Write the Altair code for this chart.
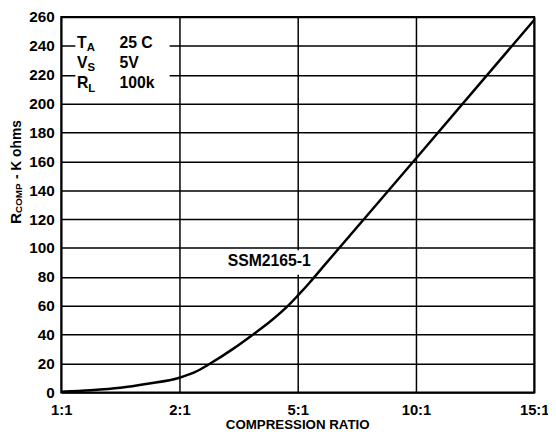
import altair as alt
import pandas as pd

# ---- data ----
ratio_labels = ["1:1", "2:1", "5:1", "10:1", "15:1"]
ratio_pos = [0, 1, 2, 3, 4]
y_ticks = list(range(0, 261, 20))

curve_x = [0.0, 0.25, 0.5, 0.73, 1.0, 1.13, 1.26, 1.45, 1.62, 1.78, 1.93, 2.0, 2.1, 2.23, 3.0, 4.0]
curve_y = [0.5, 1.5, 3.2, 6.0, 10.2, 14, 20, 30, 40, 50, 61, 67, 76, 88.5, 162, 258]

# annotation texts (position in data units, font size)
ann_text = ["T", "A", "25 C", "V", "S", "5V", "R", "L", "100k", "SSM2165-1"]
ann_x = [0.133, 0.215, 0.492, 0.133, 0.222, 0.492, 0.133, 0.228, 0.492, 1.408]
ann_y = [238.8, 236.4, 238.8, 225.0, 222.6, 225.0, 210.5, 208.1, 210.5, 87.3]
ann_size = [16, 11.5, 16, 16, 11.5, 16, 16, 11.5, 16, 16]

# white boxes behind the annotations
box_x = [0.12, 1.39]
box_x2 = [0.917, 2.13]
box_y = [206.8, 81.5]
box_y2 = [250.4, 98.5]

FONT = "Liberation Sans"

curve = pd.DataFrame({"x": curve_x, "y": curve_y})
ann = pd.DataFrame({"x": ann_x, "y": ann_y, "text": ann_text, "size": ann_size})
boxes = pd.DataFrame({"x": box_x, "x2": box_x2, "y": box_y, "y2": box_y2})

label_expr = "[" + ",".join("'%s'" % l for l in ratio_labels) + "][datum.value]"

X = alt.X(
    "x:Q",
    scale=alt.Scale(domain=[0, 4], nice=False, zero=False),
    axis=alt.Axis(
        values=ratio_pos, labelExpr=label_expr, title=None, grid=True, ticks=False,
        domain=False, labelPadding=10, labelFontSize=15, labelFont=FONT,
        labelFontWeight="bold", labelColor="black", gridColor="black", gridWidth=1.5,
        gridOpacity=1, labelFlush=False, labelOverlap=False,
    ),
)
Y = alt.Y(
    "y:Q",
    scale=alt.Scale(domain=[0, 260], nice=False),
    axis=alt.Axis(
        values=y_ticks, title=None, grid=True, ticks=False, domain=False,
        labelPadding=7, labelFontSize=15.5, labelFont=FONT, labelFontWeight="bold",
        labelColor="black", gridColor="black", gridWidth=1.5, gridOpacity=1,
        labelFlush=False, labelOverlap=False, labelBaseline="middle",
    ),
)

rects = alt.Chart(boxes).mark_rect(color="white").encode(
    x=X, x2="x2:Q", y=Y, y2="y2:Q"
)

line = alt.Chart(curve).mark_line(color="black", strokeWidth=2.5, interpolate="monotone").encode(
    x=X, y=Y
)

texts = alt.Chart(ann).mark_text(
    font=FONT, fontWeight="bold", color="black", align="left", baseline="alphabetic"
).encode(
    x=X, y=Y, text="text:N", size=alt.Size("size:Q", scale=None, legend=None)
)

def label(txt, px, py, size, angle=0, align="left"):
    return alt.Chart(pd.DataFrame({"t": [txt]})).mark_text(
        font=FONT, fontWeight="bold", color="black", align=align,
        baseline="alphabetic", angle=angle, fontSize=size,
    ).encode(text="t:N", x=alt.value(px), y=alt.value(py))

ytitle_r = label("R", -41, 210, 15.5, angle=270)
ytitle_sub = label("COMP", -39.5, 198.8, 10, angle=270)
ytitle_rest = label("-\u00a0K ohms", -41, 164.5, 14, angle=270)
xtitle = label("COMPRESSION RATIO", 240, 418, 13.5, align="center")

chart = alt.layer(
    rects, line, texts, ytitle_r, ytitle_sub, ytitle_rest, xtitle
).properties(
    width=480, height=381,
    autosize=alt.AutoSizeParams(type="none"),
    padding={"left": 54, "top": 6, "right": 14, "bottom": 37},
    background="white",
).configure_view(stroke="black", strokeWidth=2)

chart.save("out.html", embed_options={"renderer": "svg", "actions": False})
